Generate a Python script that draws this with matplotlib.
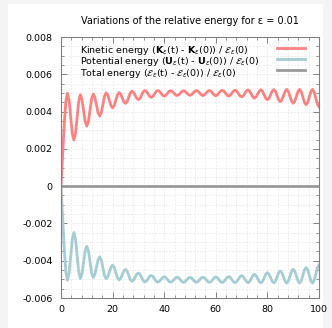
import numpy as np
import matplotlib
matplotlib.use("Agg")
from matplotlib import pyplot as plt
from matplotlib.patches import Rectangle

plt.rcParams['font.family'] = ['DejaVu Sans']
plt.rcParams['mathtext.fontset'] = 'dejavusans'

# sample times (step 0.625)
time = np.linspace(0, 100, 161)

# relative kinetic energy, units of 1e-3
kinetic = np.array([
    0.00,
    1.60, 3.30, 4.55, 4.98,
    4.61, 3.73, 2.84, 2.47,
    2.83, 3.69, 4.55, 4.90,
    4.65, 4.06, 3.47, 3.22,
    3.47, 4.08, 4.69, 4.94,
    4.77, 4.35, 3.93, 3.76,
    3.94, 4.38, 4.82, 5.00,
    4.88, 4.60, 4.32, 4.20,
    4.32, 4.61, 4.90, 5.02,
    4.94, 4.73, 4.52, 4.44,
    4.54, 4.77, 5.00, 5.10,
    5.03, 4.87, 4.71, 4.64,
    4.71, 4.89, 5.06, 5.13,
    5.08, 4.95, 4.81, 4.76,
    4.81, 4.95, 5.08, 5.13,
    5.09, 4.98, 4.87, 4.83,
    4.87, 4.98, 5.08, 5.12,
    5.08, 4.99, 4.90, 4.86,
    4.90, 4.99, 5.08, 5.12,
    5.08, 5.00, 4.91, 4.87,
    4.91, 5.00, 5.09, 5.13,
    5.09, 5.00, 4.90, 4.86,
    4.90, 5.00, 5.09, 5.13,
    5.09, 4.99, 4.89, 4.85,
    4.89, 5.00, 5.10, 5.14,
    5.10, 4.99, 4.88, 4.83,
    4.88, 4.99, 5.10, 5.15,
    5.10, 4.97, 4.84, 4.79,
    4.84, 4.98, 5.11, 5.16,
    5.10, 4.94, 4.78, 4.72,
    4.79, 4.95, 5.10, 5.17,
    5.09, 4.90, 4.71, 4.63,
    4.71, 4.91, 5.10, 5.18,
    5.09, 4.86, 4.62, 4.53,
    4.63, 4.86, 5.09, 5.19,
    5.08, 4.82, 4.56, 4.45,
    4.56, 4.82, 5.08, 5.19,
    5.07, 4.78, 4.49, 4.37,
    4.49, 4.78, 5.07, 5.19,
    5.05, 4.73, 4.40, 4.26,
]) * 1e-3

# relative potential energy, units of 1e-3
potential = np.array([
    0.00,
    -1.60, -3.30, -4.60, -5.05,
    -4.68, -3.77, -2.86, -2.49,
    -2.85, -3.73, -4.60, -4.96,
    -4.71, -4.09, -3.47, -3.22,
    -3.47, -4.06, -4.66, -4.90,
    -4.74, -4.35, -3.95, -3.79,
    -3.96, -4.38, -4.79, -4.96,
    -4.86, -4.60, -4.35, -4.24,
    -4.36, -4.64, -4.92, -5.03,
    -4.95, -4.75, -4.55, -4.47,
    -4.56, -4.79, -5.01, -5.10,
    -5.04, -4.88, -4.72, -4.66,
    -4.73, -4.90, -5.07, -5.14,
    -5.09, -4.97, -4.84, -4.79,
    -4.84, -4.97, -5.10, -5.15,
    -5.11, -5.01, -4.90, -4.86,
    -4.90, -5.01, -5.11, -5.15,
    -5.11, -5.02, -4.92, -4.88,
    -4.92, -5.02, -5.12, -5.16,
    -5.12, -5.03, -4.93, -4.89,
    -4.93, -5.03, -5.12, -5.16,
    -5.12, -5.02, -4.92, -4.88,
    -4.92, -5.02, -5.12, -5.16,
    -5.12, -5.02, -4.91, -4.87,
    -4.91, -5.02, -5.13, -5.17,
    -5.12, -5.01, -4.90, -4.85,
    -4.90, -5.02, -5.13, -5.18,
    -5.12, -4.99, -4.86, -4.80,
    -4.86, -4.99, -5.12, -5.18,
    -5.11, -4.96, -4.80, -4.73,
    -4.80, -4.96, -5.12, -5.19,
    -5.11, -4.92, -4.72, -4.64,
    -4.72, -4.92, -5.11, -5.19,
    -5.10, -4.87, -4.64, -4.55,
    -4.65, -4.88, -5.11, -5.20,
    -5.09, -4.83, -4.57, -4.46,
    -4.57, -4.83, -5.09, -5.20,
    -5.08, -4.79, -4.49, -4.37,
    -4.49, -4.79, -5.08, -5.20,
    -5.06, -4.72, -4.38, -4.24,
]) * 1e-3

# total energy stays at zero
total_t = [0, 100]
total = [0.0, 0.0]

labels = [
    r"Kinetic energy ($\mathbf{K}_\varepsilon$(t) - $\mathbf{K}_\varepsilon$(0)) / $\mathcal{E}_\varepsilon$(0)",
    r"Potential energy ($\mathbf{U}_\varepsilon$(t) - $\mathbf{U}_\varepsilon$(0)) / $\mathcal{E}_\varepsilon$(0)",
    r"Total energy ($\mathcal{E}_\varepsilon$(t) - $\mathcal{E}_\varepsilon$(0)) / $\mathcal{E}_\varepsilon$(0)",
]
colors = ['#ff8282', '#a6cdd1', '#9a9a9a']

x_ticks = [0, 20, 40, 60, 80, 100]
y_ticks = [-0.006, -0.004, -0.002, 0, 0.002, 0.004, 0.006, 0.008]
y_labels = ['-0.006', '-0.004', '-0.002', '0', '0.002', '0.004', '0.006', '0.008']

fig = plt.figure(figsize=(3.32, 3.28), dpi=100)
fig.patch.set_facecolor('#f4f4f4')
fig.patches.append(Rectangle((8 / 332, 0), 315 / 332, 324 / 328, transform=fig.transFigure,
                             facecolor='white', edgecolor='none', zorder=-10))

ax = fig.add_axes([61 / 332, 30 / 328, 258 / 332, 261 / 328])
lines = []
lines += ax.plot(time, kinetic, color=colors[0], lw=2.0)
lines += ax.plot(time, potential, color=colors[1], lw=2.0)
lines += ax.plot(total_t, total, color=colors[2], lw=2.0)

ax.set_xlim(0, 100)
ax.set_ylim(-0.006, 0.008)
ax.set_xticks(x_ticks)
ax.set_xticklabels([str(v) for v in x_ticks])
ax.set_yticks(y_ticks)
ax.set_yticklabels(y_labels)
ax.set_xticks(np.arange(0, 101, 4), minor=True)
ax.set_yticks(np.arange(-0.006, 0.0081, 0.0005), minor=True)
ax.tick_params(which='both', direction='in', top=True, right=True, colors='#808080',
               labelcolor='black', labelsize=6.8)
ax.tick_params(which='major', length=4, width=0.7)
ax.tick_params(which='minor', length=2.5, width=0.6)
ax.tick_params(axis='y', pad=6)
ax.tick_params(axis='x', pad=5)
for s in ax.spines.values():
    s.set_color('#808080')
    s.set_linewidth(0.8)
ax.grid(which='both', color='#e8e8e8', ls=(0, (3, 2)), lw=0.5)
ax.set_axisbelow(True)

ax.set_title(u"Variations of the relative energy for \u03b5 = 0.01", fontsize=7, pad=9)

# legend: keys on the right, left-aligned texts
ax.legend(lines, [' '] * 3, loc='upper left', bbox_to_anchor=(0.837, 0.976), frameon=False,
          fontsize=7, handlelength=2.9, handletextpad=0, labelspacing=0.12,
          borderpad=0, borderaxespad=0)
for i, lab in enumerate(labels):
    ax.text(0.072, 0.940 - i * 0.0445, lab, transform=ax.transAxes, fontsize=6.8,
            ha='left', va='baseline')

fig.savefig('out.png', dpi=100, facecolor=fig.get_facecolor())
